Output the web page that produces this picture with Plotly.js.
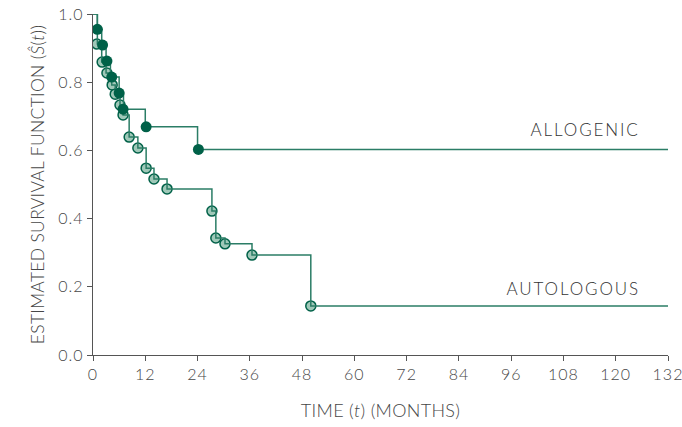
<!DOCTYPE html>
<html><head><meta charset="utf-8">
<script src="https://cdn.plot.ly/plotly-3.0.1.min.js"></script>
<style>body{margin:0;background:#fff}#c{width:682px;height:427px}
#c .xtick text, #c .ytick text{letter-spacing:1px}
#c .annotation-text{letter-spacing:1.9px}
#c .g-xtitle text, #c .g-ytitle text{letter-spacing:0.3px}
</style>
</head><body><div id="c"></div>
<script>
// Allogenic group (step function and markers)
var alloTimes = [0, 1, 2, 3, 4, 6, 7, 12, 24, 132];
var alloSurv  = [1.0, 0.955, 0.909, 0.862, 0.815, 0.768, 0.721, 0.669, 0.603, 0.603];
var alloMarkT = [1, 2.2, 3.2, 4.3, 6, 6.9, 12.2, 24.2];
var alloMarkS = [0.955, 0.909, 0.862, 0.815, 0.768, 0.721, 0.669, 0.603];

// Autologous group
var autoTimes = [0, 1, 2, 3, 4.3, 5.1, 6.2, 6.9, 8.3, 10.3, 12.2, 14, 17, 27.3, 28.2, 30.3, 36.5, 50, 132];
var autoSurv  = [1.0, 0.912, 0.859, 0.827, 0.792, 0.765, 0.733, 0.704, 0.639, 0.607, 0.548, 0.516, 0.487, 0.422, 0.343, 0.326, 0.293, 0.144, 0.144];
var autoMarkT = [0.9, 2.1, 3.2, 4.4, 5.1, 6.2, 6.9, 8.3, 10.3, 12.2, 14, 17, 27.3, 28.2, 30.3, 36.5, 50];
var autoMarkS = [0.912, 0.859, 0.827, 0.792, 0.765, 0.733, 0.704, 0.639, 0.607, 0.548, 0.516, 0.487, 0.422, 0.343, 0.326, 0.293, 0.144];

var xTicks = [0, 12, 24, 36, 48, 60, 72, 84, 96, 108, 120, 132];
var yTicks = [0, 0.2, 0.4, 0.6, 0.8, 1.0];
var labels = ["ALLOGENIC", "AUTOLOGOUS"];

var lineCol = '#2b7d66', dark = '#006148', light = '#9fc8b8';
var traces = [
  {x: autoMarkT, y: autoMarkS, mode: 'markers', type: 'scatter',
   marker: {size: 10, color: light, line: {color: dark, width: 1.5}}},
  {x: autoTimes, y: autoSurv, mode: 'lines', type: 'scatter',
   line: {shape: 'hv', color: lineCol, width: 1.5}},
  {x: alloTimes, y: alloSurv, mode: 'lines', type: 'scatter',
   line: {shape: 'hv', color: lineCol, width: 1.5}},
  {x: alloMarkT, y: alloMarkS, mode: 'markers', type: 'scatter',
   marker: {size: 11, color: dark, line: {color: dark, width: 0}}}
];
var fam = 'Lato, "Open Sans", sans-serif';
var txt = '#474747';
var font = {family: fam, size: 15, color: txt, weight: 300};
var layout = {
  width: 682, height: 427, showlegend: false,
  margin: {l: 93, r: 14, t: 14, b: 72},
  paper_bgcolor: '#fff', plot_bgcolor: '#fff', font: font,
  xaxis: {range: [0, 132], tickvals: xTicks, ticktext: xTicks.map(String),
    showgrid: false, zeroline: false, showline: true, linecolor: '#555', linewidth: 1.2,
    ticks: 'outside', ticklen: 5, tickcolor: '#555', tickfont: {family: fam, size: 16, color: txt, weight: 300},
    title: {text: 'TIME (<i>t</i>) (MONTHS)', font: {family: fam, size: 18, color: txt, weight: 300}, standoff: 22}},
  yaxis: {range: [0, 1], tickvals: yTicks, tickformat: '.1f',
    showgrid: false, zeroline: false, showline: true, linecolor: '#555', linewidth: 1.2,
    ticks: 'outside', ticklen: 5, tickcolor: '#555', tickfont: {family: fam, size: 16, color: txt, weight: 300},
    title: {text: 'ESTIMATED SURVIVAL FUNCTION (<i>Ŝ</i>(<i>t</i>))', font: {family: fam, size: 17.5, color: txt, weight: 300}, standoff: 12}},
  annotations: [
    {x: 124, y: 0.66, xref: 'x', yref: 'y', text: labels[0], showarrow: false, xanchor: 'right', yanchor: 'middle',
     font: {family: fam, size: 17, color: '#333', weight: 300}},
    {x: 124, y: 0.196, xref: 'x', yref: 'y', text: labels[1], showarrow: false, xanchor: 'right', yanchor: 'middle',
     font: {family: fam, size: 17, color: '#333', weight: 300}}
  ]
};
Plotly.newPlot('c', traces, layout, {displayModeBar: false, staticPlot: true});
</script></body></html>
